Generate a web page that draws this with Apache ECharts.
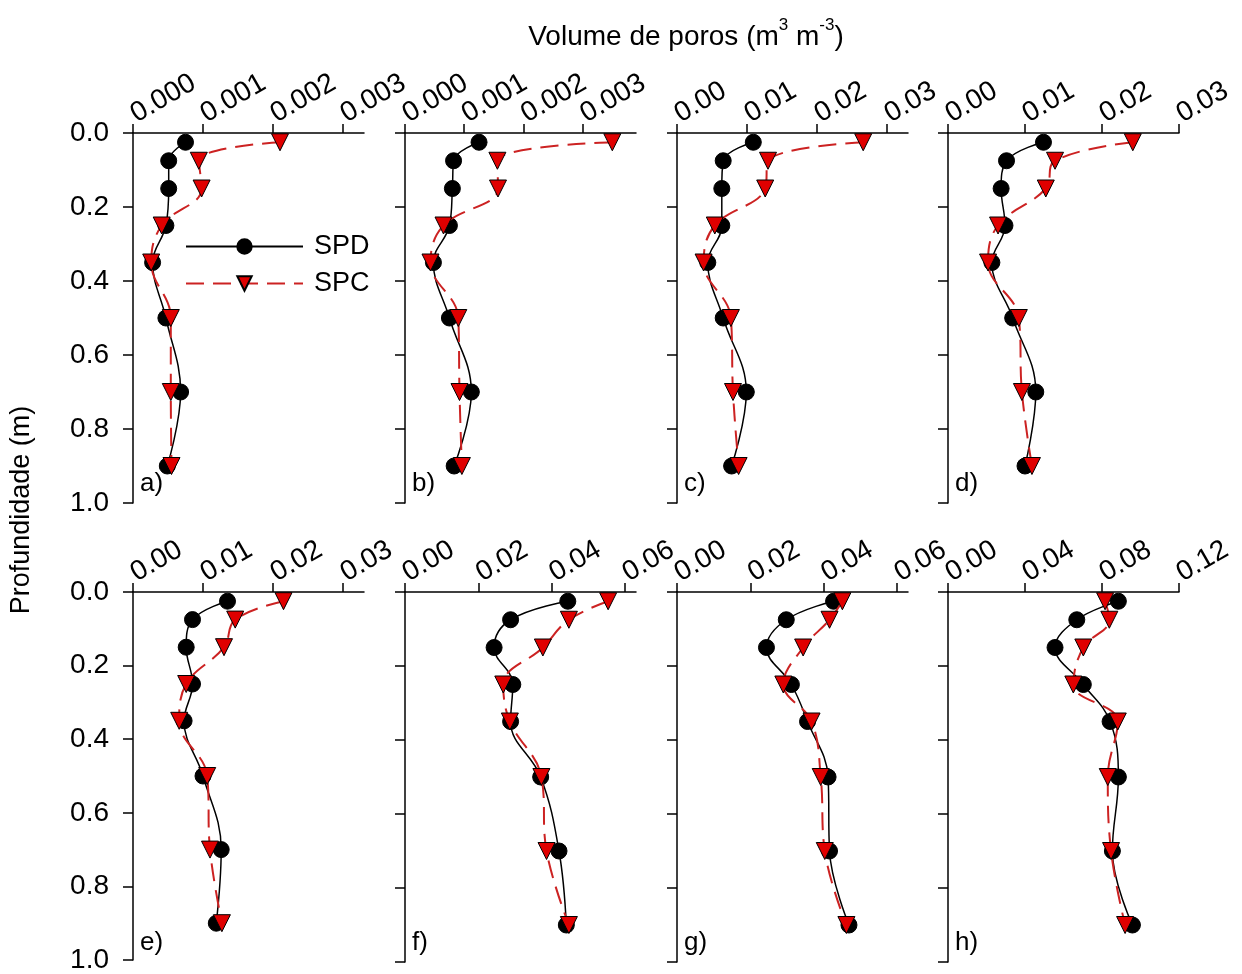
<!DOCTYPE html>
<html>
<head>
<meta charset="utf-8">
<script src="https://cdn.jsdelivr.net/npm/echarts@6/dist/echarts.min.js"></script>
<style>html,body{margin:0;padding:0;background:#fff}#c{width:1242px;height:974px}</style>
</head>
<body>
<div id="c"></div>
<script>
// ---- data ----
const depths = [0.025, 0.075, 0.15, 0.25, 0.35, 0.5, 0.7, 0.9];
const panelLabels = ['a)', 'b)', 'c)', 'd)', 'e)', 'f)', 'g)', 'h)'];
const spdA = [0.00075, 0.00051, 0.00051, 0.00047, 0.00028, 0.00047, 0.00068, 0.00049];
const spcA = [0.0021, 0.00094, 0.00098, 0.00041, 0.00026, 0.00054, 0.00054, 0.00055];
const spdB = [0.00125, 0.00082, 0.0008, 0.00075, 0.00048, 0.00075, 0.00112, 0.00083];
const spcB = [0.0035, 0.00156, 0.00157, 0.00065, 0.00043, 0.0009, 0.00092, 0.00096];
const spdC = [0.0109, 0.0066, 0.0064, 0.0064, 0.0044, 0.0066, 0.0099, 0.0078];
const spcC = [0.0266, 0.013, 0.0126, 0.0054, 0.0038, 0.0077, 0.008, 0.0088];
const spdD = [0.0124, 0.0076, 0.0069, 0.0074, 0.0057, 0.0084, 0.0114, 0.01];
const spcD = [0.024, 0.0139, 0.0127, 0.0065, 0.0052, 0.0092, 0.0096, 0.0109];
const spdE = [0.0135, 0.0085, 0.0076, 0.0085, 0.0073, 0.01, 0.0126, 0.0119];
const spcE = [0.0215, 0.0146, 0.013, 0.0076, 0.0066, 0.0106, 0.011, 0.0127];
const spdF = [0.0444, 0.0288, 0.0243, 0.0294, 0.0288, 0.037, 0.042, 0.044];
const spcF = [0.0554, 0.0447, 0.0376, 0.0268, 0.0286, 0.0372, 0.0386, 0.0447];
const spdG = [0.0427, 0.0298, 0.0244, 0.0312, 0.0356, 0.0412, 0.0416, 0.0469];
const spcG = [0.0451, 0.0416, 0.0344, 0.029, 0.0367, 0.0392, 0.0403, 0.0462];
const spdH = [0.0885, 0.0669, 0.0556, 0.0703, 0.0842, 0.0885, 0.0854, 0.0958];
const spcH = [0.0816, 0.0838, 0.0703, 0.0651, 0.0882, 0.083, 0.0847, 0.092];
const xMax = [0.0033, 0.0039, 0.033, 0.030, 0.033, 0.063, 0.063, 0.12];
const xTicks = [
  [0, 0.001, 0.002, 0.003], [0, 0.001, 0.002, 0.003],
  [0, 0.01, 0.02, 0.03], [0, 0.01, 0.02, 0.03],
  [0, 0.01, 0.02, 0.03], [0, 0.02, 0.04, 0.06],
  [0, 0.02, 0.04, 0.06], [0, 0.04, 0.08, 0.12]
];
const xDecimals = [3, 3, 2, 2, 2, 2, 2, 2];
const yTicks = [0, 0.2, 0.4, 0.6, 0.8, 1.0];
const spdAll = [spdA, spdB, spdC, spdD, spdE, spdF, spdG, spdH];
const spcAll = [spcA, spcB, spcC, spcD, spcE, spcF, spcG, spcH];

// ---- layout ----
const colLeft = [133, 405, 677, 948];
const rowTop = [133, 592];
const gw = 231, gh = 370;
const FONT = 'Liberation Sans, Arial, sans-serif';

const grids = [], xAxes = [], yAxes = [], series = [], graphics = [];
for (let i = 0; i < 8; i++) {
  const r = Math.floor(i / 4), c = i % 4;
  grids.push({left: colLeft[c], top: rowTop[r], width: gw, height: gh, containLabel: false});
  xAxes.push({
    gridIndex: i, type: 'value', position: 'top', min: 0, max: xMax[i],
    axisLine: {show: true, onZero: false, lineStyle: {color: '#000', width: 1.5}},
    axisTick: {show: true, inside: false, length: 9, customValues: xTicks[i], lineStyle: {color: '#000', width: 1.5}},
    axisLabel: {show: true, rotate: -30, margin: 17, customValues: xTicks[i], color: '#000', fontFamily: FONT, fontSize: 28,
      formatter: v => v.toFixed(xDecimals[i])},
    splitLine: {show: false}
  });
  yAxes.push({
    gridIndex: i, type: 'value', inverse: true, min: 0, max: 1, interval: 0.2,
    axisLine: {show: true, onZero: false, lineStyle: {color: '#000', width: 1.5}},
    axisTick: {show: true, inside: false, length: 10, customValues: yTicks, lineStyle: {color: '#000', width: 1.5}},
    axisLabel: {show: c === 0, margin: 24, customValues: yTicks, color: '#000', fontFamily: FONT, fontSize: 28,
      formatter: v => v.toFixed(1)},
    splitLine: {show: false}
  });
  series.push({
    name: 'SPD', type: 'line', xAxisIndex: i, yAxisIndex: i, smooth: 0.4,
    data: spdAll[i].map((v, k) => [v, depths[k]]),
    symbol: 'circle', symbolSize: 16,
    itemStyle: {color: '#000', borderColor: '#000', borderWidth: 1},
    lineStyle: {color: '#000', width: 1.5, type: 'solid'},
    z: 2
  });
  series.push({
    name: 'SPC', type: 'line', xAxisIndex: i, yAxisIndex: i, smooth: 0.4,
    data: spcAll[i].map((v, k) => [v, depths[k]]),
    symbol: 'triangle', symbolRotate: 180, symbolSize: 17,
    itemStyle: {color: '#e00000', borderColor: '#000', borderWidth: 1},
    lineStyle: {color: '#cc2222', width: 2, type: [18, 9]},
    z: 3
  });
  graphics.push({
    type: 'text', left: colLeft[c] + 7, top: rowTop[r] + gh - 32,
    style: {text: panelLabels[i], font: '26px ' + FONT, fill: '#000'}
  });
}
graphics.push({
  type: 'text', x: 22, y: 510, rotation: Math.PI / 2,
  style: {text: 'Profundidade (m)', font: '27px ' + FONT, fill: '#000', align: 'center', verticalAlign: 'middle'}
});

const chart = echarts.init(document.getElementById('c'), null, {renderer: 'canvas'});
chart.setOption({
  animation: false,
  backgroundColor: '#fff',
  title: {
    text: '{a|Volume de poros (m}{s|3}{a| m}{s|-3}{a|)}',
    left: 681, top: 12, textAlign: 'center',
    textStyle: {
      fontWeight: 'normal',
      rich: {
        a: {fontFamily: FONT, fontSize: 28, fontWeight: 'normal', color: '#000', lineHeight: 34, verticalAlign: 'bottom'},
        s: {fontFamily: FONT, fontSize: 17, fontWeight: 'normal', color: '#000', lineHeight: 34, verticalAlign: 'top'}
      }
    }
  },
  legend: {
    orient: 'vertical', left: 180, top: 228, itemWidth: 117, itemHeight: 18, itemGap: 10,
    data: ['SPD', 'SPC'],
    textStyle: {fontFamily: FONT, fontSize: 27, color: '#000', lineHeight: 27, padding: [0, 0, 0, 6]}
  },
  grid: grids, xAxis: xAxes, yAxis: yAxes, series: series, graphic: graphics
});
</script>
</body>
</html>
